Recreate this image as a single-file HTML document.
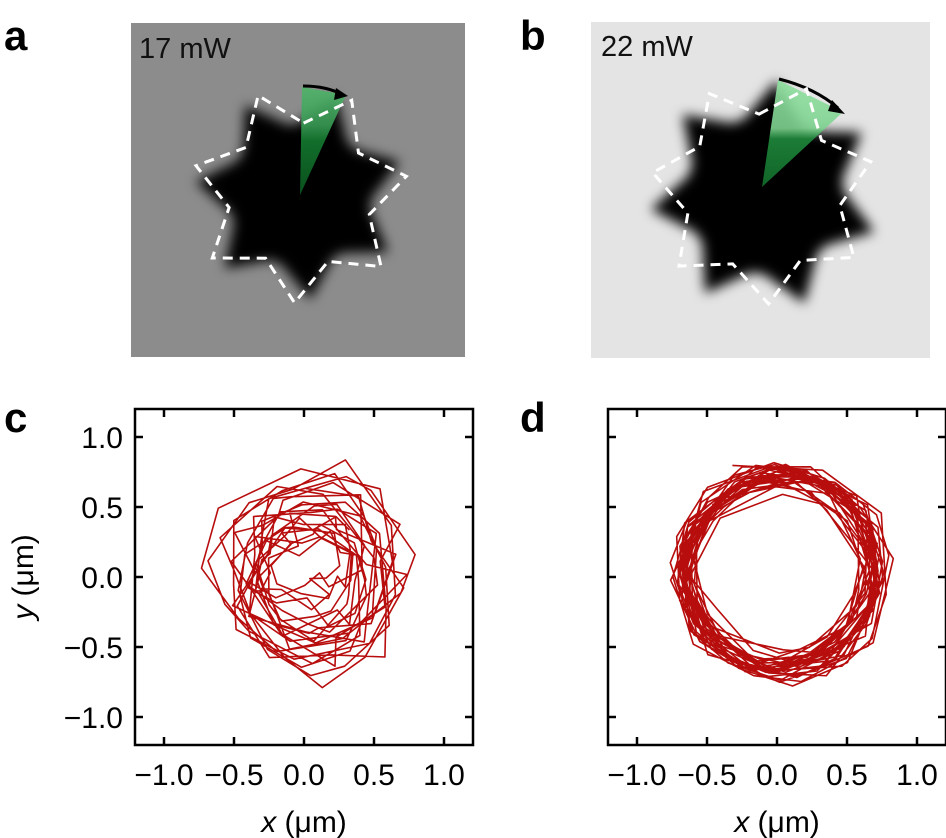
<!DOCTYPE html>
<html><head><meta charset="utf-8"><style>
body{margin:0;background:#fff;}
svg{display:block;font-family:"Liberation Sans",Arial,sans-serif;}
</style></head><body>
<svg id="s" width="946" height="838" viewBox="0 0 946 838" xmlns="http://www.w3.org/2000/svg">
<defs>
<filter id="bl" x="-20%" y="-20%" width="140%" height="140%"><feGaussianBlur stdDeviation="6"/></filter>
<linearGradient id="ga" x1="0" y1="0" x2="0" y2="1"><stop offset="0" stop-color="#4fb46a"/><stop offset="0.35" stop-color="#3a9d55"/><stop offset="0.5" stop-color="#147a30"/><stop offset="1" stop-color="#0b5a20"/></linearGradient>
<linearGradient id="gb" x1="0" y1="0" x2="0" y2="1"><stop offset="0" stop-color="#8fe0a0"/><stop offset="0.45" stop-color="#7fd390"/><stop offset="0.55" stop-color="#1f8a3c"/><stop offset="1" stop-color="#12702c"/></linearGradient>
</defs>
<rect x="131" y="23" width="334" height="334" fill="#8c8c8c"/>
<g id="starA" filter="url(#bl)"></g>
<path d="M300,195 L302,87 L346,95 Z" fill="url(#ga)" opacity="0.9"/>
<path d="M303,86 Q327,86 343,95" stroke="#000" stroke-width="3" fill="none"/>
<path d="M336,88 L348,96 L334,100 Z" fill="#000"/>
<g id="dashA" stroke="#fff" stroke-width="3" fill="none" stroke-dasharray="10,7"></g>
<text x="139" y="58" font-size="29" fill="#111">17 mW</text>
<rect x="591" y="22" width="339" height="336" fill="#e4e4e4"/>
<g id="starB" filter="url(#bl)"></g>
<path d="M762,187 L778,80 L843,112 Z" fill="url(#gb)" opacity="0.9"/>
<path d="M779,79 Q815,88 838,108" stroke="#000" stroke-width="3" fill="none"/>
<path d="M832,100 L845,114 L828,111 Z" fill="#000"/>
<g id="dashB" stroke="#fff" stroke-width="3" fill="none" stroke-dasharray="10,7"></g>
<text x="601" y="56" font-size="29" fill="#111">22 mW</text>
<g font-weight="bold" font-size="42" fill="#000">
<text x="4" y="50">a</text><text x="520" y="50">b</text>
<text x="4" y="432">c</text><text x="520" y="432">d</text>
</g>
<g id="axes"></g>
</svg>
<script>
var NS="http://www.w3.org/2000/svg";
function el(p,t,a,txt){var e=document.createElementNS(NS,t);for(var k in a)e.setAttribute(k,a[k]);if(txt!=null)e.textContent=txt;p.appendChild(e);return e;}
var seed=7;function rnd(){seed=(seed*16807)%2147483647;return (seed-1)/2147483646;}
function star(g,cx,cy,R,r,rot,fill){var pts=[];for(var i=0;i<14;i++){var a=rot+i*Math.PI/7;var rr=i%2?r:R;pts.push((cx+rr*Math.sin(a)).toFixed(1)+","+(cy-rr*Math.cos(a)).toFixed(1));}
el(g,"polygon",{points:pts.join(" "),fill:fill});el(g,"circle",{cx:cx,cy:cy,r:r*1.05,fill:fill});}
star(document.getElementById("starA"),300,195,105,68,0.35,"#000");
star(document.getElementById("starB"),765,195,115,75,0.1,"#000");
function dash(g,cx,cy,R,r,rot){var pts=[];for(var i=0;i<14;i++){var a=rot+i*Math.PI/7;var rr=i%2?R:r;pts.push((cx+rr*Math.sin(a)).toFixed(1)+","+(cy-rr*Math.cos(a)).toFixed(1));}
el(g,"polygon",{points:pts.join(" ")});}
dash(document.getElementById("dashA"),300,195,108,72,0.05);
dash(document.getElementById("dashB"),763,192,112,78,-0.05);
var ax=document.getElementById("axes");
function panel(L,cx,cy,ylab,data){
 var R=L+338,T=409,B=745;
 el(ax,"rect",{x:L,y:T,width:R-L,height:B-T,fill:"none",stroke:"#000","stroke-width":2.5});
 var g=el(ax,"g",{fill:"none",stroke:"#b80d0d","stroke-width":1.6,"stroke-linejoin":"round"});
 data.forEach(function(d){el(g,"polyline",{points:d.map(function(p){return (cx+p[0]*140).toFixed(1)+","+(cy-p[1]*140).toFixed(1)}).join(" ")});});
 var v=[-1,-0.5,0,0.5,1];
 v.forEach(function(t){var x=cx+t*140,y=cy-t*140;
  el(ax,"line",{x1:x,y1:B,x2:x,y2:B-8,stroke:"#000","stroke-width":2.5});
  el(ax,"line",{x1:x,y1:T,x2:x,y2:T+8,stroke:"#000","stroke-width":2.5});
  el(ax,"line",{x1:L,y1:y,x2:L+8,y2:y,stroke:"#000","stroke-width":2.5});
  el(ax,"line",{x1:R,y1:y,x2:R-8,y2:y,stroke:"#000","stroke-width":2.5});
  var s=(t<0?"\u2212":"")+Math.abs(t).toFixed(1);
  el(ax,"text",{x:x,y:B+40,"font-size":30,"text-anchor":"middle"},s);
  if(ylab) el(ax,"text",{x:L-12,y:y+11,"font-size":30,"text-anchor":"end"},s);
 });
 var t=el(ax,"text",{x:cx,y:832,"font-size":30,"text-anchor":"middle"});
 el(t,"tspan",{"font-style":"italic"},"x");el(t,"tspan",{},"\u00a0(\u03bcm)");
 if(ylab){var t2=el(ax,"text",{x:0,y:0,"font-size":30,"text-anchor":"middle",transform:"translate(33,"+cy+") rotate(-90)"});
  el(t2,"tspan",{"font-style":"italic"},"y");el(t2,"tspan",{},"\u00a0(\u03bcm)");}
}
function gen(n,cx0,cy0,r0,rv,step,noise){var pts=[],a=rnd()*6.28,r=r0,cx=cx0,cy=cy0;
 for(var i=0;i<n;i++){a+=step*(0.6+0.8*rnd());r+= (r0-r)*0.15+(rnd()-0.5)*rv;
  var x=cx+r*Math.cos(a)+(rnd()-0.5)*noise,y=cy+r*Math.sin(a)+(rnd()-0.5)*noise;pts.push([x,y]);}
 return [pts];}
seed=11;panel(135,304,577,true,gen(220,0.04,0.02,0.5,0.28,0.6,0.2));
seed=5;panel(608,777,577,false,gen(330,0.02,0.04,0.7,0.09,0.6,0.1));
</script>
</body></html>
